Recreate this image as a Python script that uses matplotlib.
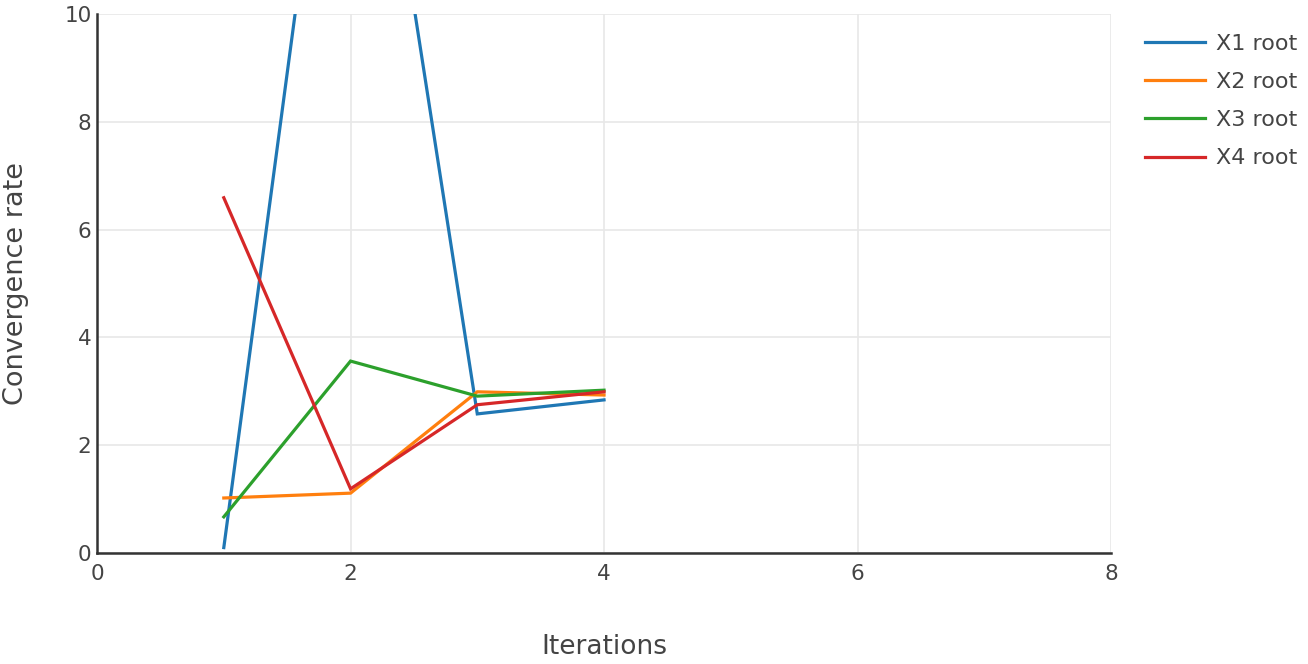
import matplotlib.pyplot as plt

iterations = [1, 2, 3, 4]
x1_root = [0.1, 17.7, 2.58, 2.84]
x2_root = [1.02, 1.11, 2.99, 2.93]
x3_root = [0.67, 3.56, 2.91, 3.02]
x4_root = [6.59, 1.19, 2.75, 2.99]

series = [("X1 root", x1_root, "#1f77b4"),
          ("X2 root", x2_root, "#ff7f0e"),
          ("X3 root", x3_root, "#2ca02c"),
          ("X4 root", x4_root, "#d62728")]

plt.rcParams['font.family'] = ['DejaVu Sans']
fig = plt.figure(figsize=(13.08, 6.64), dpi=100)
ax = fig.add_axes([0.0742, 0.1672, 0.7752, 0.8118])

for name, vals, color in series:
    ax.plot(iterations, vals, color=color, lw=2.3, label=name,
            solid_joinstyle="miter")

ax.set_xlim(0, 8)
ax.set_ylim(0, 10)
ax.set_xticks([0, 2, 4, 6, 8])
ax.set_yticks([0, 2, 4, 6, 8, 10])
ax.grid(True, color="#e8e8e8", lw=1.2)
ax.set_axisbelow(True)
for side in ["top", "right"]:
    ax.spines[side].set_visible(False)
for side in ["left", "bottom"]:
    ax.spines[side].set_color("#333333")
    ax.spines[side].set_linewidth(1.8)
ax.tick_params(length=0, labelsize=15.5, colors="#444444", pad=4)
ax.tick_params(axis="x", pad=8)

ax.set_xlabel("Iterations", fontsize=19, color="#444444", va="center")
ax.xaxis.set_label_coords(0.5, -0.174)
ax.set_ylabel("Convergence rate", fontsize=19.5, color="#444444", va="center")
ax.yaxis.set_label_coords(-0.08, 0.5)

ax.legend(loc="upper left", bbox_to_anchor=(1.02, 0.988), frameon=False,
          fontsize=16, handlelength=2.7, handletextpad=0.5, labelspacing=0.82,
          borderaxespad=0.0, borderpad=0.6, labelcolor="#444444")

fig.savefig("out.png", dpi=100)
